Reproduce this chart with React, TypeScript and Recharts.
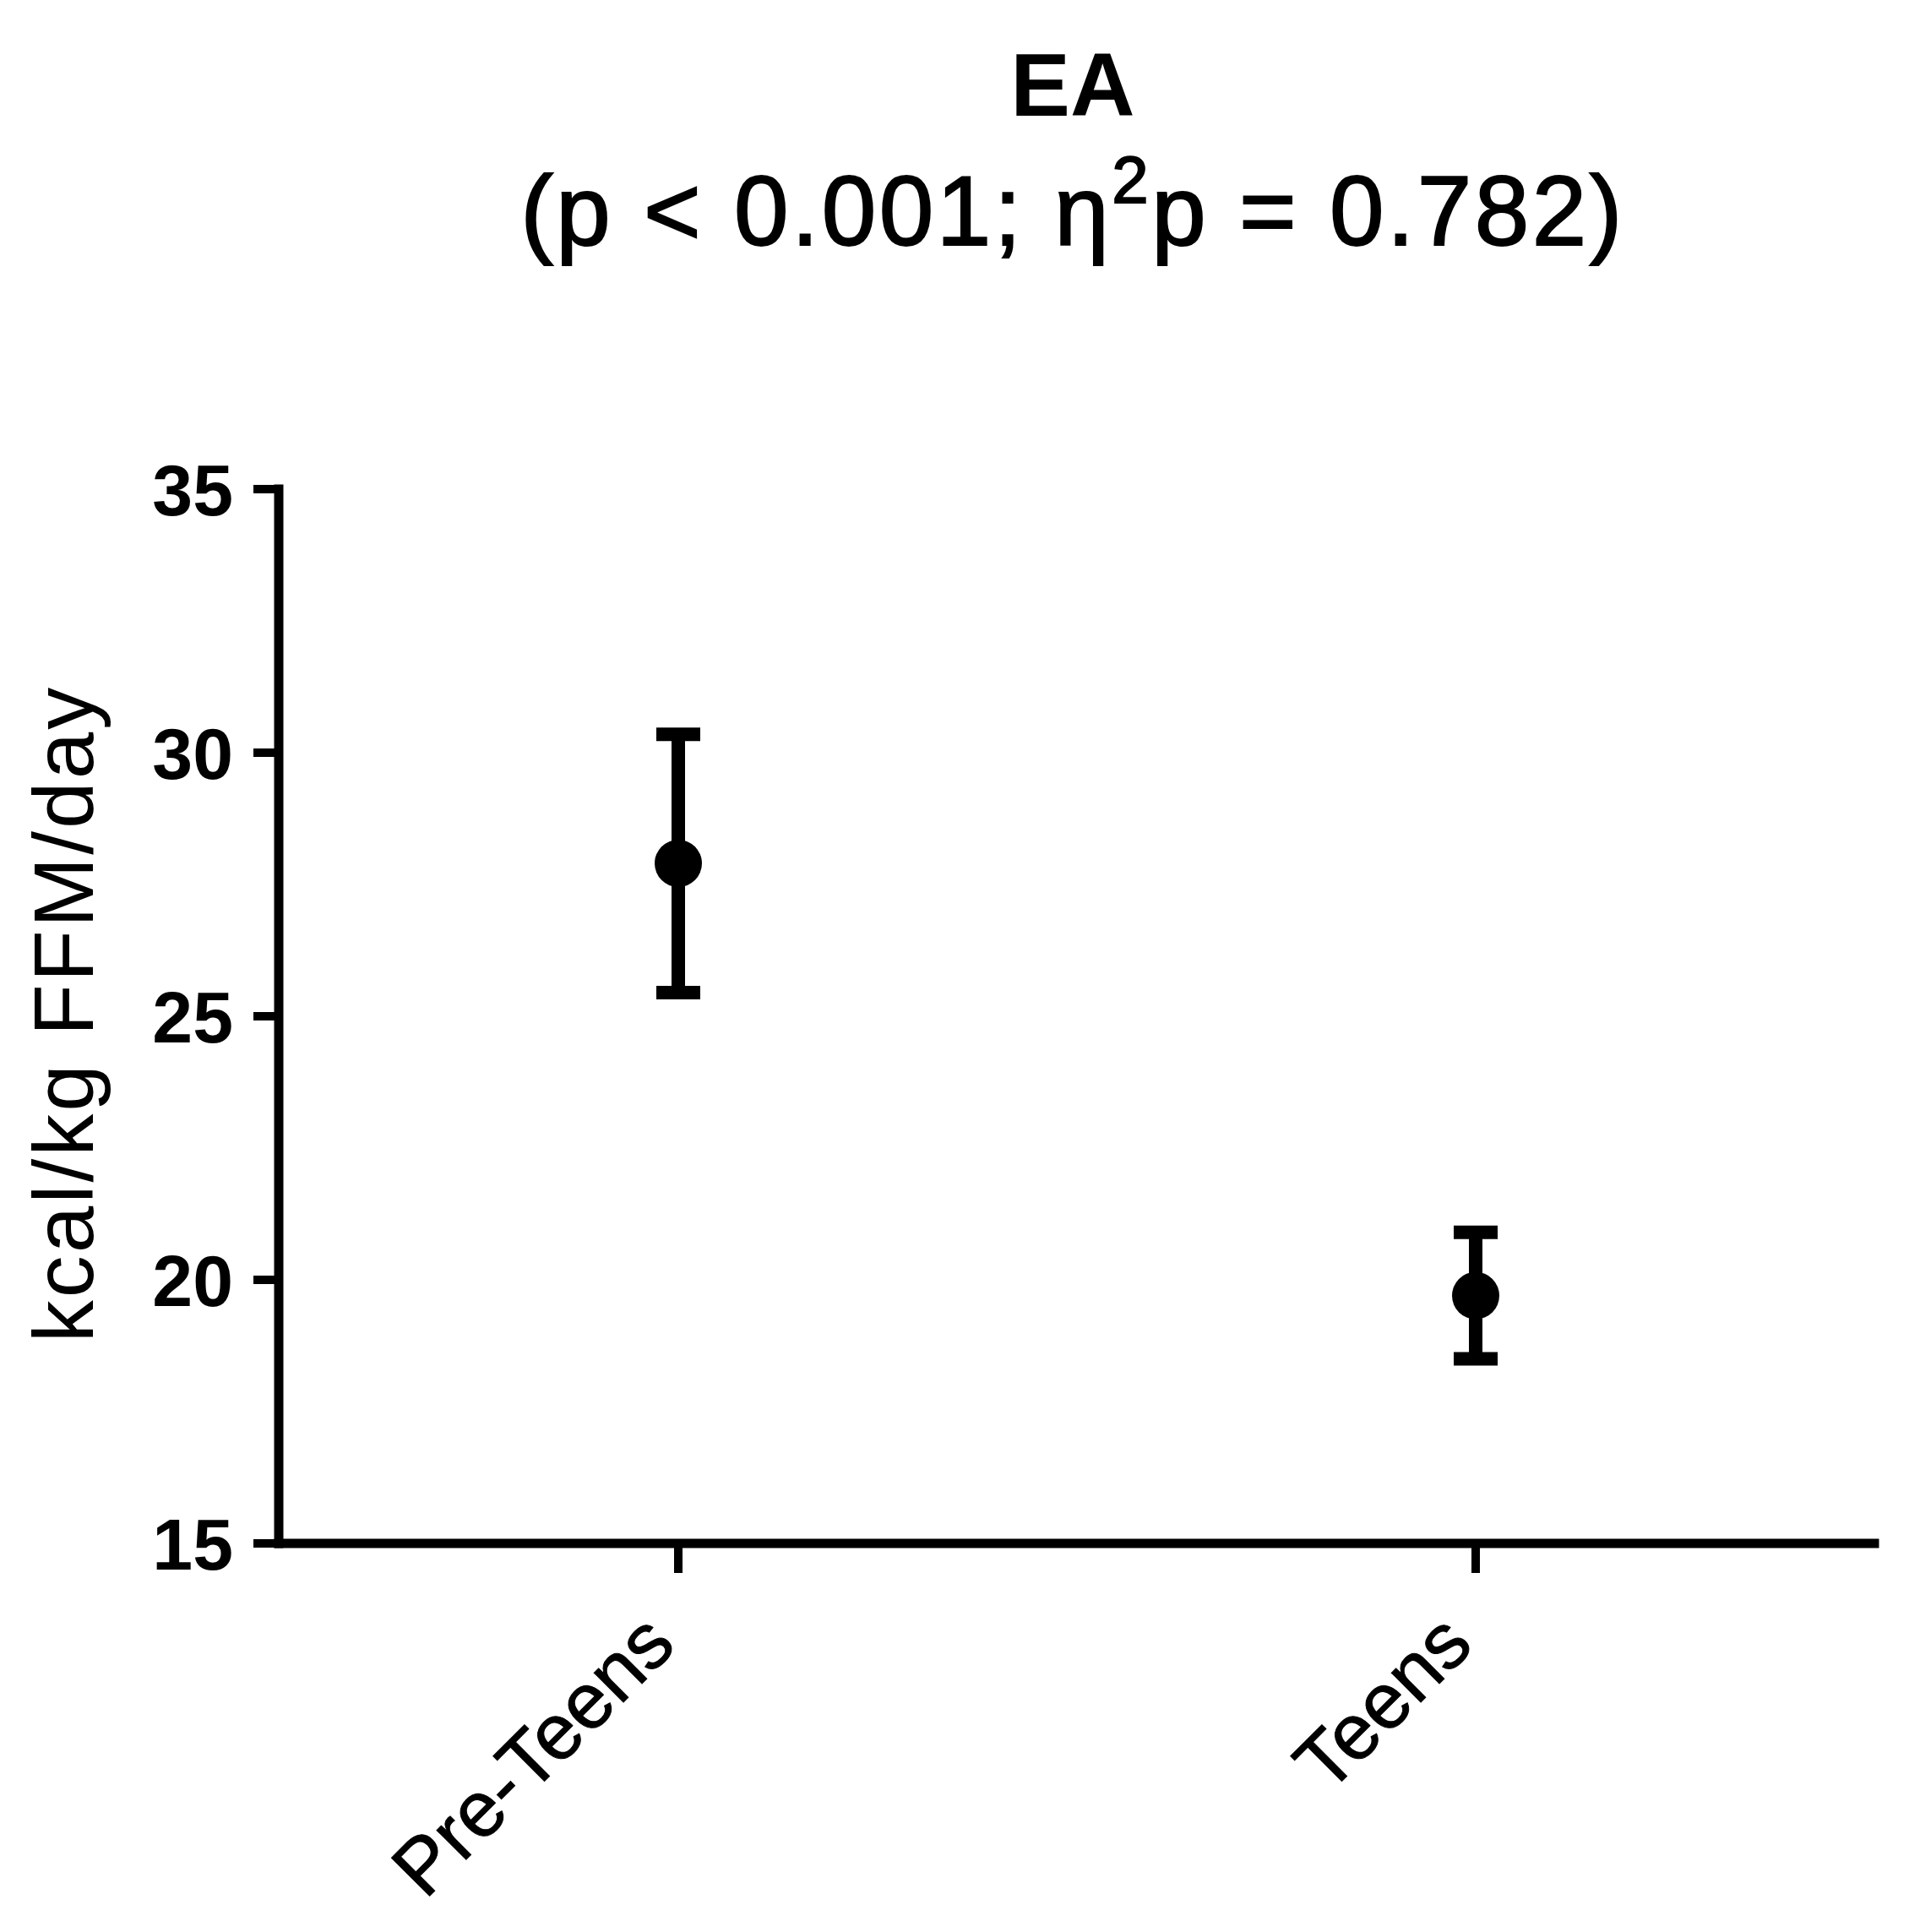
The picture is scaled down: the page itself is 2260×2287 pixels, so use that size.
import { ComposedChart, Line, ErrorBar, XAxis, YAxis, Label } from "recharts";

const groups = ["Pre-Teens", "Teens"];
const means = [27.9, 19.7];
const errors = [2.45, 1.2];
const yTicks = [15, 20, 25, 30, 35];

const data = groups.map((g, i) => ({ name: g, mean: means[i], err: errors[i] }));

const FONT = "'Liberation Sans', Arial, Helvetica, sans-serif";

const XTick = (props: any) => {
  const { x, y, payload } = props;
  const ty = y + 88;
  return (
    <text
      x={x}
      y={ty}
      transform={`rotate(-45, ${x}, ${ty})`}
      textAnchor="end"
      fontFamily={FONT}
      fontSize={93}
      fill="#000"
      stroke="#000"
      strokeWidth={1}
    >
      {payload.value}
    </text>
  );
};

const YLabel = (props: any) => {
  const vb = props.viewBox || { x: 0, y: 0, height: 0 };
  const x = vb.x + 110;
  const y = vb.y + vb.height / 2 - 3;
  return (
    <text
      x={x}
      y={y}
      transform={`rotate(-90, ${x}, ${y})`}
      textAnchor="middle"
      fontFamily={FONT}
      fontSize={100}
      letterSpacing={3}
      fill="#000"
    >
      kcal/kg FFM/day
    </text>
  );
};

export default function App() {
  return (
    <div style={{ position: "absolute", left: 0, top: 0, width: 2260, height: 2287, background: "#fff" }}>
      <svg width={2260} height={400} style={{ position: "absolute", left: 0, top: 0 }}>
        <text x={1270} y={137} textAnchor="middle" fontFamily={FONT} fontWeight="bold" fontSize={106} fill="#000">
          EA
        </text>
        <text
          x={1270}
          y={290}
          textAnchor="middle"
          fontFamily={FONT}
          fontSize={116}
          letterSpacing={3.5}
          fill="#000"
          stroke="#000"
          strokeWidth={2}
        >
          (p &lt; 0.001; η
          <tspan dy={-50} fontSize={78}>2</tspan>
          <tspan dy={50}>p = 0.782)</tspan>
        </text>
      </svg>
      <ComposedChart
        width={2260}
        height={2287}
        data={data}
        margin={{ top: 579, right: 41, bottom: 0, left: 0 }}
      >
        <XAxis
          dataKey="name"
          type="category"
          height={460}
          padding={{ left: 473, right: 472 }}
          axisLine={{ stroke: "#000", strokeWidth: 11, strokeLinecap: "square" }}
          tickLine={{ stroke: "#000", strokeWidth: 10 }}
          tickSize={35}
          tickMargin={0}
          tick={<XTick />}
          interval={0}
        />
        <YAxis
          domain={[15, 35]}
          ticks={yTicks}
          width={330}
          axisLine={{ stroke: "#000", strokeWidth: 11, strokeLinecap: "square" }}
          tickLine={{ stroke: "#000", strokeWidth: 10 }}
          tickSize={30}
          tickMargin={24}
          tick={{ fontFamily: FONT, fontWeight: "bold", fontSize: 86, fill: "#000" }}
          allowDataOverflow
        >
          <Label content={<YLabel />} />
        </YAxis>
        <Line
          dataKey="mean"
          stroke="none"
          isAnimationActive={false}
          dot={{ r: 28, fill: "#000", stroke: "none" }}
          activeDot={false}
        >
          <ErrorBar dataKey="err" direction="y" width={26} strokeWidth={16} stroke="#000" />
        </Line>
      </ComposedChart>
    </div>
  );
}
